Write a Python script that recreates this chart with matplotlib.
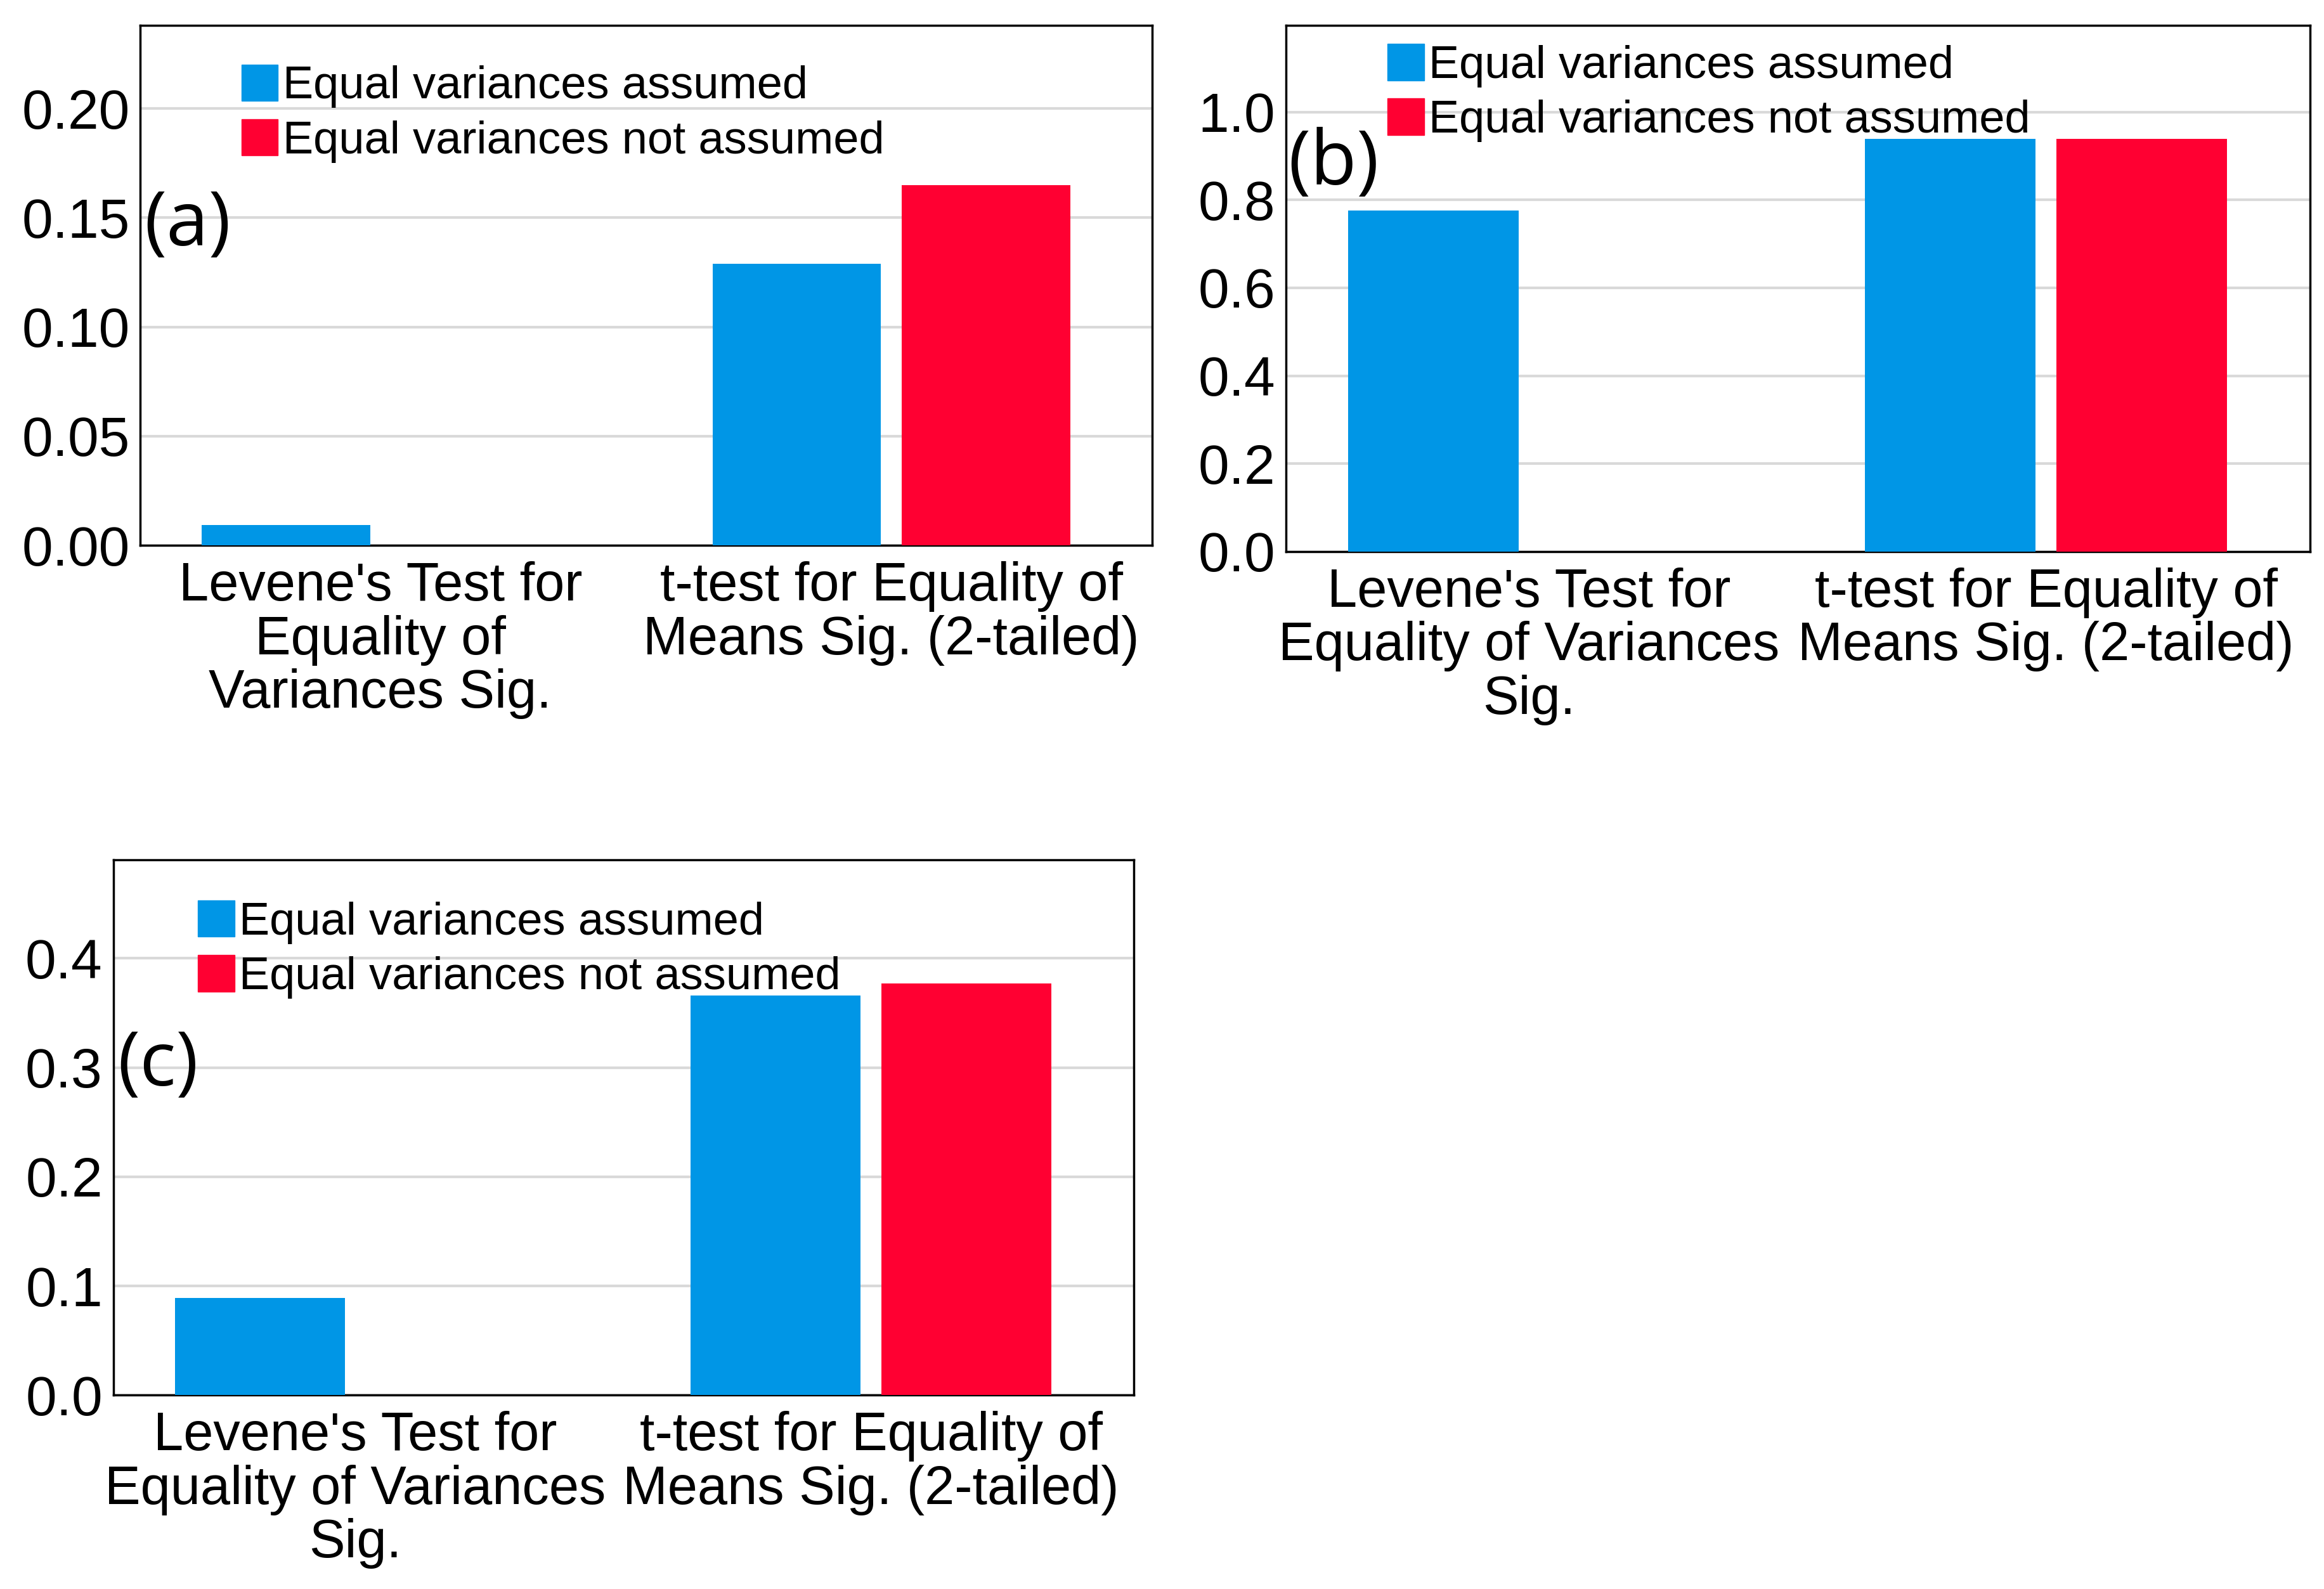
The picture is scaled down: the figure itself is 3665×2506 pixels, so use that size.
import matplotlib
matplotlib.use("Agg")
import matplotlib.pyplot as plt
from matplotlib.patches import Patch
import numpy as np

plt.rcParams['font.family'] = ['Liberation Sans', 'DejaVu Sans']

categories_a = ["Levene's Test for\nEquality of\nVariances Sig.", "t-test for Equality of\nMeans Sig. (2-tailed)"]
categories_bc = ["Levene's Test for\nEquality of Variances\nSig.", "t-test for Equality of\nMeans Sig. (2-tailed)"]
series_names = ["Equal variances assumed", "Equal variances not assumed"]

# values: [Levene, t-test]; None = no bar
a_assumed = [0.0095, 0.129]
a_not_assumed = [None, 0.165]
b_assumed = [0.776, 0.939]
b_not_assumed = [None, 0.939]
c_assumed = [0.089, 0.366]
c_not_assumed = [None, 0.377]

yticks_a = [0.00, 0.05, 0.10, 0.15, 0.20]
yticks_b = [0.0, 0.2, 0.4, 0.6, 0.8, 1.0]
yticks_c = [0.0, 0.1, 0.2, 0.3, 0.4]

BLUE = '#0096E6'
RED = '#FF0032'

W, H = 3666, 2506
fig = plt.figure(figsize=(W / 100, H / 100), dpi=100)

def panel(rect, cats, assumed, not_assumed, yticks, ylim, fmt, label, leg_anchor, lab_pos):
    ax = fig.add_axes(rect)
    x = np.arange(len(cats))
    bw = 0.33
    off = 0.185
    for i in range(len(cats)):
        if assumed[i] is not None:
            ax.bar(x[i] - off, assumed[i], bw, color=BLUE, zorder=3)
        if not_assumed[i] is not None:
            ax.bar(x[i] + off, not_assumed[i], bw, color=RED, zorder=3)
    ax.set_xlim(-0.47, 1.51)
    ax.set_ylim(*ylim)
    ax.set_yticks(yticks)
    ax.set_yticklabels([fmt.format(v) for v in yticks])
    ax.set_xticks(x)
    ax.set_xticklabels(cats, linespacing=1.07)
    ax.tick_params(axis='y', length=0, pad=12, labelsize=63)
    ax.tick_params(axis='x', length=0, pad=18, labelsize=61)
    ax.yaxis.grid(True, color='#D9D9D9', linewidth=3, zorder=0)
    ax.set_axisbelow(True)
    for s in ax.spines.values():
        s.set_linewidth(2.5)
        s.set_color('black')
    handles = [Patch(color=BLUE), Patch(color=RED)]
    ax.legend(handles, series_names, loc='upper left', bbox_to_anchor=leg_anchor,
              frameon=False, fontsize=52, handlelength=0.8, handleheight=0.85,
              handletextpad=0.1, labelspacing=0.24, borderpad=0, borderaxespad=0)
    ax.text(lab_pos[0], lab_pos[1], label, transform=ax.transAxes, fontsize=86,
            family=['Open Sans', 'DejaVu Sans'], ha='left', va='center', zorder=5)
    return ax

panel([0.0603, 0.6567, 0.4352, 0.3273], categories_a, a_assumed, a_not_assumed,
      yticks_a, (0, 0.238), '{:.2f}', '(a)', (0.10, 0.925), (0.004, 0.615))
panel([0.5532, 0.6529, 0.4404, 0.3311], categories_bc, b_assumed, b_not_assumed,
      yticks_b, (0, 1.197), '{:.1f}', '(b)', (0.099, 0.965), (0.002, 0.735))
panel([0.0487, 0.1220, 0.4391, 0.3367], categories_bc, c_assumed, c_not_assumed,
      yticks_c, (0, 0.49), '{:.1f}', '(c)', (0.083, 0.925), (0.004, 0.615))

fig.savefig('out.png', dpi=100, facecolor='white')
